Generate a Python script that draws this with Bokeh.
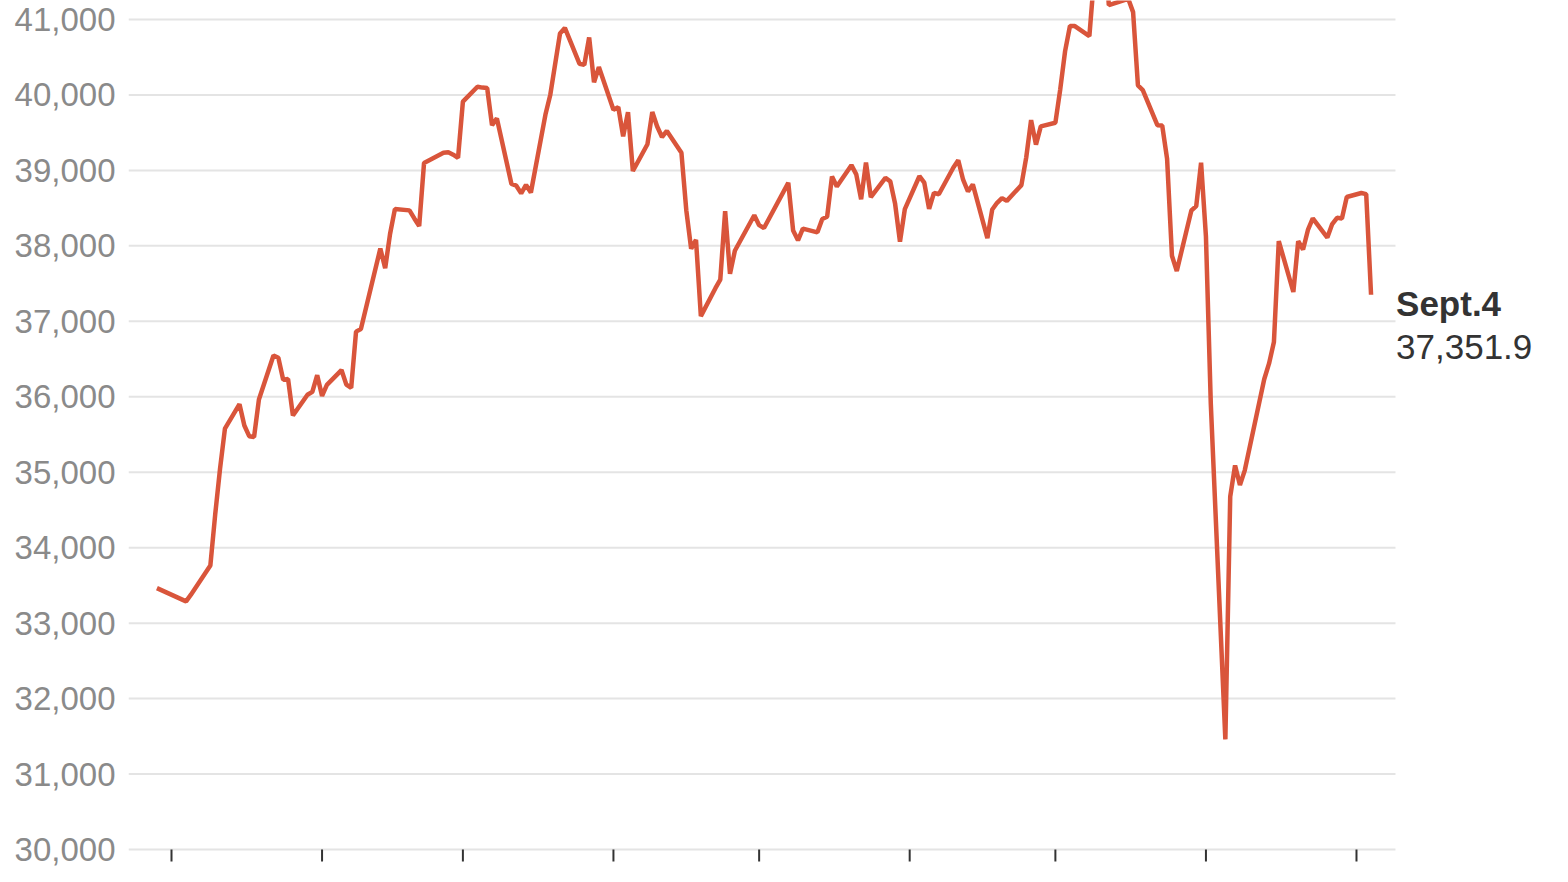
import pandas as pd
from bokeh.plotting import figure
from bokeh.models import Range1d, FixedTicker, NumeralTickFormatter
from bokeh.core.properties import value
from bokeh.embed import file_html
from bokeh.resources import INLINE

# Nikkei 225 daily close
dates = [
    "2023-12-29",
    "2024-01-04", "2024-01-05", "2024-01-09", "2024-01-10", "2024-01-11", "2024-01-12",
    "2024-01-15", "2024-01-16", "2024-01-17", "2024-01-18", "2024-01-19", "2024-01-22",
    "2024-01-23", "2024-01-24", "2024-01-25", "2024-01-26", "2024-01-29", "2024-01-30",
    "2024-01-31",
    "2024-02-01", "2024-02-02", "2024-02-05", "2024-02-06", "2024-02-07", "2024-02-08",
    "2024-02-09", "2024-02-13", "2024-02-14", "2024-02-15", "2024-02-16", "2024-02-19",
    "2024-02-20", "2024-02-21", "2024-02-22", "2024-02-26", "2024-02-27", "2024-02-28",
    "2024-02-29",
    "2024-03-01", "2024-03-04", "2024-03-05", "2024-03-06", "2024-03-07", "2024-03-08",
    "2024-03-11", "2024-03-12", "2024-03-13", "2024-03-14", "2024-03-15", "2024-03-18",
    "2024-03-19", "2024-03-21", "2024-03-22", "2024-03-25", "2024-03-26", "2024-03-27",
    "2024-03-28", "2024-03-29",
    "2024-04-01", "2024-04-02", "2024-04-03", "2024-04-04", "2024-04-05", "2024-04-08",
    "2024-04-09", "2024-04-10", "2024-04-11", "2024-04-12", "2024-04-15", "2024-04-16",
    "2024-04-17", "2024-04-18", "2024-04-19", "2024-04-22", "2024-04-23", "2024-04-24",
    "2024-04-25", "2024-04-26", "2024-04-30",
    "2024-05-01", "2024-05-02", "2024-05-07", "2024-05-08", "2024-05-09", "2024-05-10",
    "2024-05-13", "2024-05-14", "2024-05-15", "2024-05-16", "2024-05-17", "2024-05-20",
    "2024-05-21", "2024-05-22", "2024-05-23", "2024-05-24", "2024-05-27", "2024-05-28",
    "2024-05-29", "2024-05-30", "2024-05-31",
    "2024-06-03", "2024-06-04", "2024-06-05", "2024-06-06", "2024-06-07", "2024-06-10",
    "2024-06-11", "2024-06-12", "2024-06-13", "2024-06-14", "2024-06-17", "2024-06-18",
    "2024-06-19", "2024-06-20", "2024-06-21", "2024-06-24", "2024-06-25", "2024-06-26",
    "2024-06-27", "2024-06-28",
    "2024-07-01", "2024-07-02", "2024-07-03", "2024-07-04", "2024-07-05", "2024-07-08",
    "2024-07-09", "2024-07-10", "2024-07-11", "2024-07-12", "2024-07-16", "2024-07-17",
    "2024-07-18", "2024-07-19", "2024-07-22", "2024-07-23", "2024-07-24", "2024-07-25",
    "2024-07-26", "2024-07-29", "2024-07-30", "2024-07-31",
    "2024-08-01", "2024-08-02", "2024-08-05", "2024-08-06", "2024-08-07", "2024-08-08",
    "2024-08-09", "2024-08-13", "2024-08-14", "2024-08-15", "2024-08-16", "2024-08-19",
    "2024-08-20", "2024-08-21", "2024-08-22", "2024-08-23", "2024-08-26", "2024-08-27",
    "2024-08-28", "2024-08-29", "2024-08-30",
    "2024-09-02", "2024-09-03", "2024-09-04",
]
closes = [
    33464.2,
    33288.3, 33377.4, 33763.2, 34441.7, 35049.9, 35577.1,
    35901.8, 35619.2, 35477.8, 35466.2, 35963.3, 36547.0,
    36517.6, 36226.5, 36236.5, 35751.1, 36026.9, 36065.9,
    36286.7,
    36011.5, 36158.0, 36354.2, 36160.7, 36119.9, 36863.3,
    36897.4, 37964.0, 37703.3, 38157.9, 38487.2, 38470.4,
    38363.6, 38262.2, 39098.7, 39233.7, 39239.5, 39208.0,
    39166.2,
    39910.8, 40109.2, 40097.6, 40090.8, 39598.7, 39688.9,
    38820.5, 38797.5, 38696.0, 38807.4, 38707.6, 39740.4,
    40003.6, 40815.7, 40888.4, 40414.1, 40398.0, 40762.7,
    40168.1, 40369.4,
    39803.1, 39838.9, 39451.9, 39773.1, 38992.1, 39347.0,
    39773.1, 39581.8, 39442.6, 39523.6, 39232.8, 38471.2,
    37961.8, 38079.7, 37068.4, 37438.6, 37552.2, 38460.1,
    37628.5, 37934.8, 38405.7,
    38274.1, 38236.1, 38835.1, 38202.4, 38074.0, 38229.1,
    38179.5, 38356.1, 38385.7, 38920.3, 38787.4, 39069.7,
    38946.9, 38617.1, 39103.2, 38646.1, 38900.0, 38855.4,
    38556.9, 38054.1, 38487.9,
    38923.0, 38837.5, 38490.2, 38703.5, 38683.9, 39038.2,
    39134.8, 38876.7, 38720.5, 38814.6, 38102.4, 38482.1,
    38570.8, 38633.0, 38596.5, 38804.7, 39173.2, 39667.1,
    39341.5, 39583.1,
    39631.1, 40074.7, 40580.8, 40913.7, 40912.4, 40780.7,
    41580.2, 41832.0, 42224.0, 41190.7, 41275.1, 41097.7,
    40126.4, 40063.8, 39599.0, 39594.4, 39154.9, 37869.5,
    37667.4, 38468.6, 38526.0, 39101.8,
    38126.3, 35909.7, 31458.4, 34675.5, 35089.6, 34831.2,
    35025.0, 36232.5, 36442.4, 36726.6, 38062.7, 37388.6,
    38062.9, 37951.8, 38211.0, 38364.6, 38110.2, 38288.6,
    38371.8, 38362.5, 38647.8,
    38700.9, 38686.3, 37351.9,
]
y_ticks = [30000, 31000, 32000, 33000, 34000, 35000, 36000, 37000, 38000, 39000, 40000, 41000]
month_ticks = ["2024-01-01", "2024-02-01", "2024-03-01", "2024-04-01", "2024-05-01",
               "2024-06-01", "2024-07-01", "2024-08-01", "2024-09-01"]
last_date_label = "Sept.4"

x = pd.to_datetime(dates)
months = pd.to_datetime(month_ticks)

x_start = pd.Timestamp("2023-12-23 03:30")
grid_end = pd.Timestamp("2024-09-09 00:45")   # gridlines stop here, label sits beyond
x_end = pd.Timestamp("2024-10-11 08:40")

y_lo, y_hi = 29668.7, 41251.8
tick_len = 159.0   # ~12px in data units

p = figure(width=1552, height=874,
           x_axis_type="datetime", x_axis_location=None,
           x_range=Range1d(x_start.to_pydatetime(), x_end.to_pydatetime()),
           y_range=Range1d(y_lo, y_hi),
           output_backend="svg", toolbar_location=None,
           min_border_left=128, min_border_right=0,
           min_border_top=0, min_border_bottom=0)

# horizontal gridlines (stop short of the end label)
n = len(y_ticks)
p.segment(x0=[x_start] * n, y0=y_ticks, x1=[grid_end] * n, y1=y_ticks,
          line_color="#e4e4e4", line_width=2)

# month tick marks under the baseline
m = len(months)
p.segment(x0=months, y0=[y_ticks[0]] * m, x1=months, y1=[y_ticks[0] - tick_len] * m,
          line_color="#333333", line_width=2)

p.line(x, closes, line_width=4.5, color="#d9553b")

# y axis: grey numbers only
p.yaxis.ticker = FixedTicker(ticks=y_ticks)
p.yaxis.formatter = NumeralTickFormatter(format="0,0")
p.yaxis.axis_line_color = None
p.yaxis.major_tick_line_color = None
p.yaxis.minor_tick_line_color = None
p.yaxis.major_tick_out = 0
p.yaxis.major_tick_in = 0
p.yaxis.major_label_standoff = 13
p.yaxis.major_label_text_font = "Liberation Sans"
p.yaxis.major_label_text_font_size = "33px"
p.yaxis.major_label_text_color = "#8a8a8a"

p.grid.visible = False
p.outline_line_color = None

# end label
p.text(x=[x[-1]], y=[closes[-1]], text=[last_date_label],
       x_offset=25, y_offset=9,
       text_font=value("Liberation Sans"), text_font_style="bold",
       text_font_size="35px", text_color="#333333", text_baseline="middle")
p.text(x=[x[-1]], y=[closes[-1]], text=[f"{closes[-1]:,.1f}"],
       x_offset=25, y_offset=52,
       text_font=value("Liberation Sans"),
       text_font_size="35px", text_color="#333333", text_baseline="middle")

open("out.html", "w").write(file_html(p, INLINE))
